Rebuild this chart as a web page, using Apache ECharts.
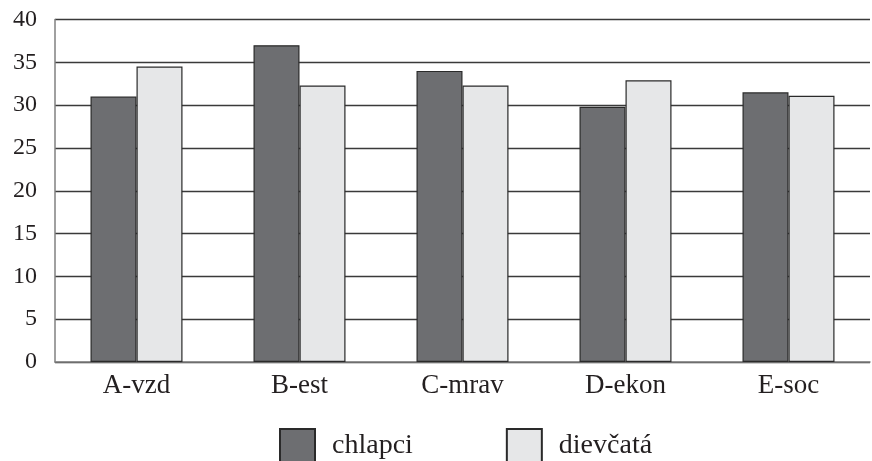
<!DOCTYPE html>
<html><head><meta charset="utf-8">
<script src="https://cdn.jsdelivr.net/npm/echarts@6/dist/echarts.min.js"></script>
<style>html,body{margin:0;padding:0;background:#fff}#c{width:872px;height:461px}</style>
</head><body><div id="c"></div>
<script>
const categories = ['A-vzd', 'B-est', 'C-mrav', 'D-ekon', 'E-soc'];
const chlapci = [31.0, 37.0, 34.0, 29.8, 31.5];
const dievcata = [34.5, 32.3, 32.3, 32.9, 31.1];
const seriesNames = ['chlapci', 'dievčatá'];
const yMin = 0, yMax = 40, yStep = 5;

const FONT = 'Liberation Serif';
const chart = echarts.init(document.getElementById('c'), null, {renderer: 'canvas'});
chart.setOption({
  animation: false,
  backgroundColor: '#fff',
  grid: {left: 55, right: 2, top: 19.5, bottom: 99, containLabel: false},
  legend: {
    data: seriesNames,
    left: 274, top: 423,
    itemWidth: 35, itemHeight: 34, itemGap: 93,
    icon: 'rect',
    textStyle: {fontFamily: FONT, fontSize: 28, color: '#231f20', padding: [0, 0, 0, 12]}
  },
  xAxis: {
    type: 'category', data: categories,
    axisLine: {lineStyle: {color: '#808080', width: 1.5}},
    axisTick: {show: false},
    axisLabel: {fontFamily: FONT, fontSize: 27, color: '#231f20', margin: 10}
  },
  yAxis: {
    type: 'value', min: yMin, max: yMax, interval: yStep,
    axisLine: {show: true, lineStyle: {color: '#808080', width: 1.5}},
    axisTick: {show: false},
    splitLine: {lineStyle: {color: '#3a3a3a', width: 1.3}},
    axisLabel: {fontFamily: FONT, fontSize: 24, color: '#231f20', margin: 18}
  },
  series: [
    {name: seriesNames[0], type: 'bar', data: chlapci, barWidth: 46, barGap: '0%',
     itemStyle: {color: '#6d6e71', borderColor: '#2a2a2a', borderWidth: 1.2}},
    {name: seriesNames[1], type: 'bar', data: dievcata, barWidth: 46, barGap: '0%',
     itemStyle: {color: '#e6e7e8', borderColor: '#2a2a2a', borderWidth: 1.2}}
  ]
});
</script></body></html>
